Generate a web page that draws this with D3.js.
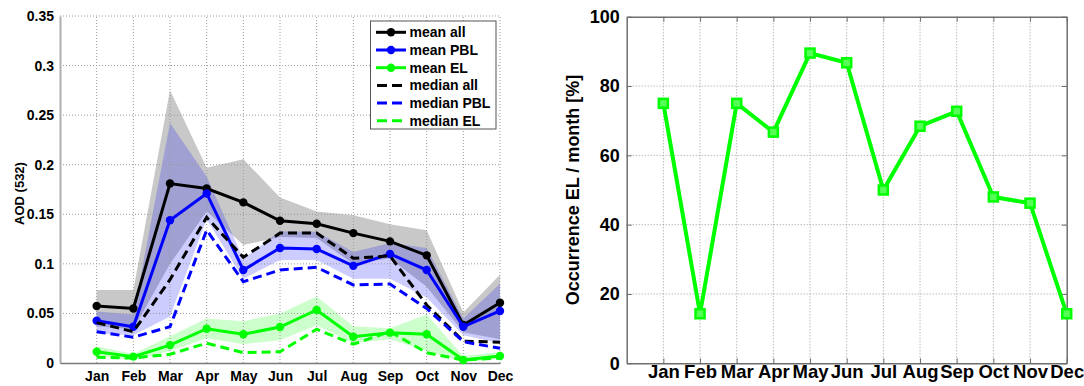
<!DOCTYPE html>
<html>
<head>
<meta charset="utf-8">
<script src="https://cdn.jsdelivr.net/npm/d3@7"></script>
<style>
  html, body { margin: 0; padding: 0; background: #fff; }
  svg { display: block; font-family: "Liberation Sans", Arial, sans-serif; font-weight: bold; }
</style>
</head>
<body>
<svg id="chart" width="1084" height="386"></svg>
<script>
// Monthly aerosol optical depth at 532 nm and elevated-layer occurrence
const months = ["Jan","Feb","Mar","Apr","May","Jun","Jul","Aug","Sep","Oct","Nov","Dec"];

const meanAll    = [0.0575,0.0550,0.181,0.176,0.162,0.1435,0.1405,0.131,0.1227,0.1086,0.0383,0.0608];
const meanPBL    = [0.0427,0.0366,0.144,0.171,0.0938,0.116,0.115,0.098,0.110,0.0938,0.0366,0.0525];
const meanEL     = [0.0114,0.0064,0.018,0.0346,0.029,0.0363,0.0535,0.0265,0.0306,0.029,0.003,0.007];
const medianAll  = [0.0407,0.0316,0.084,0.147,0.1066,0.131,0.131,0.1056,0.108,0.0585,0.022,0.021];
const medianPBL  = [0.0316,0.026,0.0366,0.134,0.082,0.0938,0.0965,0.0787,0.0797,0.055,0.0215,0.0148];
const medianEL   = [0.0057,0.005,0.0088,0.020,0.0104,0.0114,0.034,0.019,0.0316,0.0104,0.003,0.005];

// spread bands (lower / upper)
const allLow  = [0.037,0.034,0.100,0.153,0.119,0.127,0.126,0.100,0.1056,0.077,0.031,0.024];
const allHigh = [0.0736,0.0736,0.275,0.197,0.2055,0.167,0.1527,0.149,0.140,0.134,0.051,0.089];
const pblLow  = [0.030,0.028,0.047,0.145,0.085,0.104,0.104,0.085,0.085,0.066,0.028,0.020];
const pblHigh = [0.052,0.049,0.242,0.188,0.105,0.133,0.1325,0.112,0.121,0.116,0.045,0.080];
const elLow   = [0.007,0.003,0.012,0.025,0.019,0.023,0.038,0.020,0.024,0.012,0.001,0.004];
const elHigh  = [0.017,0.009,0.027,0.045,0.042,0.050,0.067,0.037,0.035,0.049,0.007,0.011];

// occurrence of elevated layers per month [%]
const occurrenceEL = [75,14.3,75,66.7,89.5,86.7,50,68.4,72.7,48,46.2,14.3];

const aodTicks = [0,0.05,0.1,0.15,0.2,0.25,0.3,0.35];
const occTicks = [0,20,40,60,80,100];

const svg = d3.select("#chart");
const GRID = "#9a9a9a";
const FONT = "Liberation Sans, Arial, sans-serif";

// ---------------- left panel: AOD ----------------
const xL = d3.scaleLinear().domain([0,12]).range([60,500]);
const yL = d3.scaleLinear().domain([0,0.35]).range([363,16]);
const left = svg.append("g");

function band(lo, hi) {
  return d3.area()
    .x((d,i) => xL(i+1))
    .y0((d,i) => yL(lo[i]))
    .y1((d,i) => yL(hi[i]))(months);
}
left.append("path").attr("d", band(allLow, allHigh)).attr("fill", "#c8c8c8");
left.append("path").attr("d", band(pblLow, pblHigh)).attr("fill", "#0000ff").attr("fill-opacity", 0.2);
left.append("path").attr("d", band(elLow, elHigh)).attr("fill", "#00ff00").attr("fill-opacity", 0.2);

// dotted grid
left.append("g").selectAll("line").data(aodTicks.slice(1)).join("line")
  .attr("x1", xL(0)).attr("x2", xL(12))
  .attr("y1", d => yL(d)).attr("y2", d => yL(d))
  .attr("stroke", GRID).attr("stroke-width", 1).attr("stroke-dasharray", "1,2");
left.append("g").selectAll("line").data(d3.range(1,13)).join("line")
  .attr("x1", d => xL(d)).attr("x2", d => xL(d))
  .attr("y1", yL(0)).attr("y2", yL(0.35))
  .attr("stroke", GRID).attr("stroke-width", 1).attr("stroke-dasharray", "1,2");

// axes
const axL = d3.axisLeft(yL).tickValues(aodTicks).tickFormat(d => d === 0 ? "0" : String(+d.toFixed(2))).tickSize(0).tickPadding(6);
const gyL = left.append("g").attr("transform", `translate(${xL(0)},0)`).call(axL);
gyL.select(".domain").attr("stroke", "#b0b0b0").attr("stroke-width", 2);
gyL.selectAll("text").attr("font-size", 14).attr("font-weight", "bold").attr("fill", "#000").attr("font-family", FONT);

const axB = d3.axisBottom(xL).tickValues(d3.range(1,13)).tickFormat(d => months[d-1]).tickSize(0).tickPadding(8);
const gxL = left.append("g").attr("transform", `translate(0,${yL(0)})`).call(axB);
gxL.select(".domain").attr("stroke", "#7a7a7a").attr("stroke-width", 1.5);
gxL.selectAll("text").attr("font-size", 14).attr("font-weight", "bold").attr("fill", "#000").attr("font-family", FONT);

left.append("text")
  .attr("transform", `translate(24,${(16+363)/2 + 4}) rotate(-90)`)
  .attr("text-anchor", "middle").attr("font-size", 13).text("AOD (532)");

// series
const seriesL = [
  {name: "mean all",    vals: meanAll,   color: "#000000", dash: null},
  {name: "mean PBL",    vals: meanPBL,   color: "#0000ff", dash: null},
  {name: "mean EL",     vals: meanEL,    color: "#00ff00", dash: null},
  {name: "median all",  vals: medianAll, color: "#000000", dash: "9,5"},
  {name: "median PBL",  vals: medianPBL, color: "#0000ff", dash: "9,5"},
  {name: "median EL",   vals: medianEL,  color: "#00ff00", dash: "9,5"}
];
const lineL = d3.line().x((d,i) => xL(i+1)).y(d => yL(d));
seriesL.forEach(s => {
  left.append("path").attr("d", lineL(s.vals))
    .attr("fill", "none").attr("stroke", s.color).attr("stroke-width", 3)
    .attr("stroke-dasharray", s.dash);
  if (!s.dash) {
    left.append("g").selectAll("circle").data(s.vals).join("circle")
      .attr("cx", (d,i) => xL(i+1)).attr("cy", d => yL(d)).attr("r", 4.2)
      .attr("fill", s.color);
  }
});

// legend
const lg = left.append("g").attr("transform", "translate(370.5,21)");
lg.append("rect").attr("width", 125.5).attr("height", 108).attr("fill", "#fff").attr("stroke", "#555").attr("stroke-width", 1);
seriesL.forEach((s, i) => {
  const cy = 11.3 + i * 17.7;
  lg.append("line").attr("x1", 5.5).attr("x2", 35.5).attr("y1", cy).attr("y2", cy)
    .attr("stroke", s.color).attr("stroke-width", 3)
    .attr("stroke-dasharray", s.dash ? "10,5" : null)
    .attr("stroke-dashoffset", s.dash ? -1 : null);
  if (!s.dash) lg.append("circle").attr("cx", 20.5).attr("cy", cy).attr("r", 4.2).attr("fill", s.color);
  lg.append("text").attr("x", 39).attr("y", cy + 5).attr("font-size", 14).text(s.name);
});

// ---------------- right panel: occurrence ----------------
const xR = d3.scaleLinear().domain([0,12]).range([626.7,1066.7]);
const yR = d3.scaleLinear().domain([0,100]).range([363.3,16.7]);
const right = svg.append("g");

right.append("g").selectAll("line").data(occTicks.slice(1,-1)).join("line")
  .attr("x1", xR(0)).attr("x2", xR(12))
  .attr("y1", d => yR(d)).attr("y2", d => yR(d))
  .attr("stroke", GRID).attr("stroke-width", 1).attr("stroke-dasharray", "1,2");
right.append("g").selectAll("line").data(d3.range(1,12)).join("line")
  .attr("x1", d => xR(d)).attr("x2", d => xR(d))
  .attr("y1", yR(0)).attr("y2", yR(100))
  .attr("stroke", GRID).attr("stroke-width", 1).attr("stroke-dasharray", "1,2");

const ayR = d3.axisLeft(yR).tickValues(occTicks).tickSizeInner(-5).tickSizeOuter(0).tickPadding(7);
const gyR = right.append("g").attr("transform", `translate(${xR(0)},0)`).call(ayR);
const ayR2 = d3.axisRight(yR).tickValues(occTicks).tickSizeInner(-5).tickSizeOuter(0).tickFormat("");
const gyR2 = right.append("g").attr("transform", `translate(${xR(12)},0)`).call(ayR2);
const axR = d3.axisBottom(xR).tickValues(d3.range(1,13)).tickFormat(d => months[d-1]).tickSizeInner(-5).tickSizeOuter(0).tickPadding(2);
const gxR = right.append("g").attr("transform", `translate(0,${yR(0)})`).call(axR);
const axR2 = d3.axisTop(xR).tickValues(d3.range(1,13)).tickSizeInner(-5).tickSizeOuter(0).tickFormat("");
const gxR2 = right.append("g").attr("transform", `translate(0,${yR(100)})`).call(axR2);
[gyR, gyR2, gxR, gxR2].forEach(g => {
  g.select(".domain").attr("stroke", "#6e6e6e").attr("stroke-width", 1.5);
  g.selectAll(".tick line").attr("stroke", "#6e6e6e").attr("stroke-width", 1);
  g.selectAll("text").attr("font-size", 18).attr("font-weight", "bold").attr("fill", "#000").attr("font-family", FONT);
});
gxR.selectAll("text").attr("font-size", 18.5);

right.append("text")
  .attr("transform", `translate(579,${(16.7+363.3)/2}) rotate(-90)`)
  .attr("text-anchor", "middle").attr("font-size", 18).text("Occurrence EL / month [%]");

const lineR = d3.line().x((d,i) => xR(i+1)).y(d => yR(d));
right.append("path").attr("d", lineR(occurrenceEL))
  .attr("fill", "none").attr("stroke", "#00ff00").attr("stroke-width", 4).attr("stroke-linejoin", "round");
right.append("g").selectAll("rect").data(occurrenceEL).join("rect")
  .attr("x", (d,i) => xR(i+1) - 4.5).attr("y", d => yR(d) - 4.5)
  .attr("width", 9).attr("height", 9)
  .attr("fill", "#55ff55").attr("stroke", "#00ff00").attr("stroke-width", 2.5);
</script>
</body>
</html>
